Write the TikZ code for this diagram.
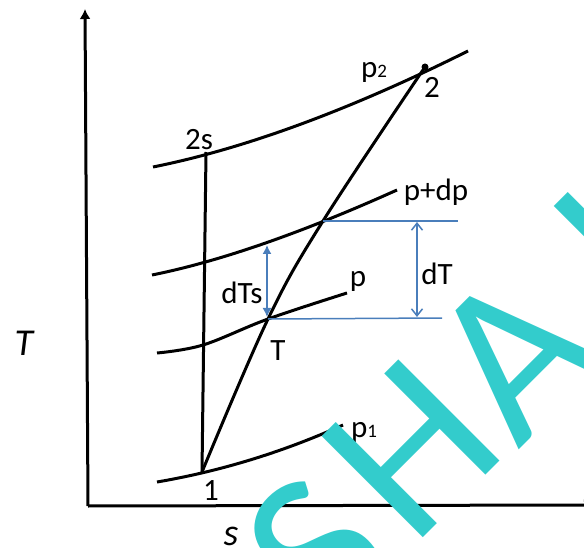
\documentclass[tikz,border=0pt]{standalone}
\usepackage{fontspec}
\setmainfont{Carlito}
\usetikzlibrary{arrows.meta}
\definecolor{lblue}{RGB}{74,126,187}
\definecolor{wmcyan}{RGB}{51,204,204}
\begin{document}
\begin{tikzpicture}[x=1pt,y=-1pt,
  curve/.style={line width=3pt},
  axisline/.style={line width=3pt},
  guide/.style={lblue, line width=1.5pt},
  lbl/.style={inner sep=0pt, anchor=base, font=\fontsize{31}{31}\selectfont},
  axlbl/.style={inner sep=0pt, anchor=base, font=\fontsize{38}{38}\selectfont\itshape},
  wm/.style={inner sep=0pt, rotate=45, text=wmcyan, font=\fontsize{223}{223}\selectfont}]
\useasboundingbox (0,0) rectangle (584,548);
% named points
\coordinate (O) at (88,506);
\coordinate (Ytop) at (85,9);
\coordinate (Xend) at (596,505);
\coordinate (P1) at (202,472);
\coordinate (P2s) at (206,152);
\coordinate (P2) at (425,67);
\coordinate (PT) at (268,319);
\coordinate (Pm) at (323,221);
\coordinate (Uend) at (458,221);
\coordinate (Lend) at (442,318);
\coordinate (dTtop) at (417,222);
\coordinate (dTbot) at (417,317);
\coordinate (dTstop) at (267,245);
\coordinate (dTsbot) at (267,317);
% axes
\draw[axisline,-{Latex[length=10pt,width=11pt]}] (O) -- (Ytop);
\draw[axisline,-{Latex[length=12pt,width=12pt]}] (O) -- (Xend);
% isobars
\draw[curve] (157,482) .. controls (220.5,471.2) and (282.5,452.2) .. (343,425);
\draw[curve] plot[smooth, tension=0.6] coordinates {(157,353) (203,345) (268,319) (347,293)};
\draw[curve] (152,275) .. controls (219.3,261.5) and (301,233.2) .. (397,190);
\draw[curve] (153,167) .. controls (245,148.6) and (350,109.9) .. (468,51);
% process lines
\draw[curve] (P1) -- (P2s);
\draw[curve] plot[smooth, tension=0.6] coordinates {(202,472) (268,319) (323,221) (425,67)};
\fill (P2) circle (3.5pt);
% blue guides
\draw[guide] (Pm) -- (Uend);
\draw[guide] (PT) -- (Lend);
\draw[guide, {Straight Barb[length=7pt,width=11pt]}-{Straight Barb[length=7pt,width=11pt]}] (dTtop) -- (dTbot);
\draw[guide, {Latex[length=9pt,width=9pt]}-{Latex[length=9pt,width=9pt]}] (dTstop) -- (dTsbot);
% labels
\node[lbl] (l2s) at (199,150) {2s};
\node[lbl] (lp2) at (374,78) {p{\fontsize{19}{19}\selectfont 2}};
\node[lbl] (l2) at (432,98) {2};
\node[lbl] (lpdp) at (436,201) {p+dp};
\node[lbl] (lp) at (358,287) {p};
\node[lbl] (ldT) at (437,285) {dT};
\node[lbl] (ldTs) at (242,303) {dTs};
\node[lbl] (lT) at (278,360) {T};
\node[lbl] (l1) at (211,500) {1};
\node[lbl] (lp1) at (364,437) {p{\fontsize{19}{19}\selectfont 1}};
\node[axlbl] (axT) at (24,355) {T};
\node[axlbl] (axs) at (231,545) {s};
% watermark
\node[wm] (wS) at (318,552) {S};
\node[wm] (wH) at (411,449) {H};
\node[wm] (wA) at (514,354) {A};
\node[wm] (wI) at (612,250) {I};
\end{tikzpicture}
\end{document}
